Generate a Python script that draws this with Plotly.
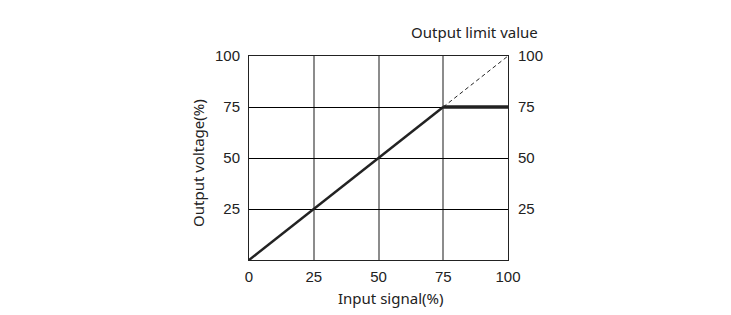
import plotly.graph_objects as go

x_ticks = [0, 25, 50, 75, 100]
y_ticks = [25, 50, 75, 100]
rise_x = [0, 75]
rise_y = [0, 75]
limit_x = [75, 100]
limit_y = [75, 75]
ideal_x = [75, 100]
ideal_y = [75, 100]

fig = go.Figure()
fig.add_trace(go.Scatter(x=ideal_x, y=ideal_y, mode="lines",
                         line=dict(color="#222", width=1, dash="4px,3px"), showlegend=False))
fig.add_trace(go.Scatter(x=rise_x, y=rise_y, mode="lines",
                         line=dict(color="#222", width=2.5), showlegend=False))
fig.add_trace(go.Scatter(x=limit_x, y=limit_y, mode="lines",
                         line=dict(color="#222", width=3.5), showlegend=False))
fig.add_trace(go.Scatter(x=[0], y=[0], yaxis="y2", mode="markers",
                         marker=dict(opacity=0), showlegend=False, hoverinfo="skip"))

tick_font = dict(family="Liberation Sans, Arial", size=15, color="#222")
title_font = dict(family="Noto Sans", size=15, color="#222")

# the page body has an 8px margin; offset plot-area margins accordingly
L, R, T, B = 241, 231, 48, 63
W, H = 731, 315
pw, ph = W - L - R, H - T - B


def px(xp):  # page pixel x -> paper fraction
    return (xp - 8 - L) / pw


def py(yp):  # page pixel y -> paper fraction
    return (H - B - (yp - 8)) / ph


fig.update_layout(
    width=W, height=H,
    margin=dict(l=L, r=R, t=T, b=B, autoexpand=False),
    plot_bgcolor="white", paper_bgcolor="white",
    xaxis=dict(range=[0, 100], tickvals=x_ticks, ticktext=[str(v) for v in x_ticks],
               showgrid=True, gridcolor="#8c8c8c", gridwidth=2,
               zeroline=False, showline=True, linecolor="#222", linewidth=1,
               mirror=True, ticks="outside", ticklen=3, tickcolor="rgba(0,0,0,0)",
               tickfont=tick_font, automargin=False),
    yaxis=dict(range=[0, 100], tickvals=y_ticks, ticktext=[str(v) for v in y_ticks],
               showgrid=True, gridcolor="#000", gridwidth=1,
               zeroline=False, showline=True, linecolor="#222", linewidth=1,
               mirror=True, ticks="outside", ticklen=5, tickcolor="rgba(0,0,0,0)",
               tickfont=tick_font, automargin=False),
    yaxis2=dict(range=[0, 100], tickvals=y_ticks, ticktext=[str(v) for v in y_ticks],
                overlaying="y", side="right", showgrid=False, zeroline=False,
                showline=False, ticks="outside", ticklen=6, tickcolor="rgba(0,0,0,0)",
                tickfont=tick_font, automargin=False),
    annotations=[
        dict(text="Output limit value", x=px(540), y=py(32), xref="paper", yref="paper",
             xanchor="right", yanchor="middle", showarrow=False, font=title_font),
        dict(text="Input signal(%)", x=px(390), y=py(298), xref="paper", yref="paper",
             xanchor="center", yanchor="middle", showarrow=False, font=title_font),
        dict(text="Output voltage(%)", x=px(198), y=py(163), xref="paper", yref="paper",
             xanchor="center", yanchor="middle", textangle=-90, showarrow=False,
             font=title_font),
    ],
)

fig.write_html("out.html")
